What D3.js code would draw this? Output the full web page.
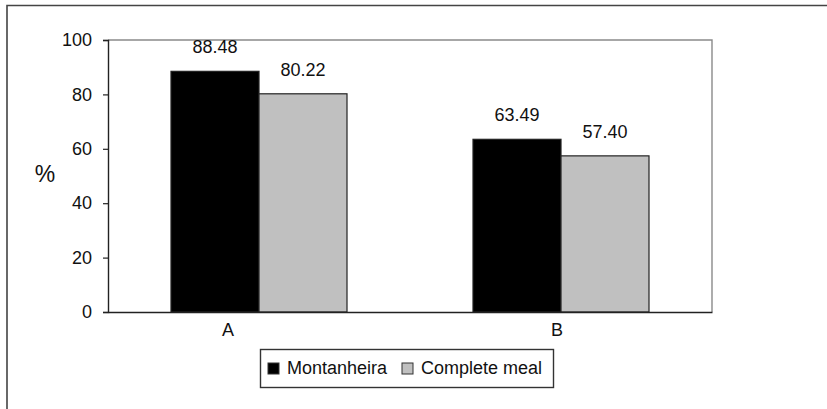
<!DOCTYPE html>
<html>
<head>
<meta charset="utf-8">
<script src="https://cdn.jsdelivr.net/npm/d3@7"></script>
<style>
  html, body { margin: 0; padding: 0; background: #fff; }
  svg { display: block; font-family: "Liberation Sans", Arial, sans-serif; }
</style>
</head>
<body>
<svg id="chart" width="827" height="409"></svg>
<script>
// Data
const categories = ["A", "B"];
const seriesNames = ["Montanheira", "Complete meal"];
const montanheira = [88.48, 63.49];
const completeMeal = [80.22, 57.40];
const yTicks = [0, 20, 40, 60, 80, 100];

const seriesValues = [montanheira, completeMeal];
const colors = ["#000000", "#c0c0c0"];

const svg = d3.select("#chart");
const W = 827, H = 409;
const plot = { left: 108, top: 40, right: 712, bottom: 312 };

// Outer frame (top and left edges)
svg.append("path")
  .attr("d", `M7,${H} L7,5.5 L${W},5.5`)
  .attr("fill", "none")
  .attr("stroke", "#444")
  .attr("stroke-width", 1.6);

const x = d3.scaleBand()
  .domain(categories)
  .range([plot.left, plot.right])
  .paddingInner(0)
  .paddingOuter(0);

const barW = 88;
const xInner = d3.scaleBand()
  .domain(seriesNames)
  .range([0, barW * 2]);

const y = d3.scaleLinear()
  .domain([0, 100])
  .range([plot.bottom, plot.top]);

// Plot area frame (top and right)
svg.append("path")
  .attr("d", `M${plot.left},${plot.top} L${plot.right},${plot.top} L${plot.right},${plot.bottom}`)
  .attr("fill", "none")
  .attr("stroke", "#8a8a8a")
  .attr("stroke-width", 1.4);

// Bars
const groups = svg.append("g").selectAll("g")
  .data(categories)
  .join("g")
  .attr("transform", d => `translate(${x(d) + x.bandwidth() / 2 - barW},0)`);

seriesNames.forEach((name, si) => {
  groups.append("rect")
    .attr("x", xInner(name))
    .attr("y", (d, i) => y(seriesValues[si][i]))
    .attr("width", xInner.bandwidth())
    .attr("height", (d, i) => y(0) - y(seriesValues[si][i]))
    .attr("fill", colors[si])
    .attr("stroke", "#222")
    .attr("stroke-width", 1.2);

  groups.append("text")
    .attr("x", xInner(name) + xInner.bandwidth() / 2)
    .attr("y", (d, i) => y(seriesValues[si][i]) - 18)
    .attr("text-anchor", "middle")
    .attr("font-size", 18)
    .attr("fill", "#111")
    .text((d, i) => seriesValues[si][i].toFixed(2));
});

// Y axis
const yAxis = d3.axisLeft(y)
  .tickValues(yTicks)
  .tickSize(5)
  .tickPadding(11)
  .tickFormat(d3.format("d"));

const gy = svg.append("g")
  .attr("transform", `translate(${plot.left},0)`)
  .call(yAxis);
gy.select(".domain").attr("stroke", "#222").attr("stroke-width", 1.4);
gy.selectAll(".tick line").attr("stroke", "#222").attr("stroke-width", 1.2);
gy.selectAll(".tick text")
  .attr("font-size", 18)
  .attr("fill", "#111")
  .attr("font-family", "Liberation Sans, Arial, sans-serif");

// X axis
const labelShift = { A: -31, B: -4 };
const xAxis = d3.axisBottom(x).tickSize(0).tickPadding(11);
const gx = svg.append("g")
  .attr("transform", `translate(0,${plot.bottom})`)
  .call(xAxis);
gx.select(".domain").attr("stroke", "#222").attr("stroke-width", 1.4);
gx.selectAll(".tick text")
  .attr("font-size", 18)
  .attr("fill", "#111")
  .attr("font-family", "Liberation Sans, Arial, sans-serif")
  .attr("dx", d => labelShift[d] || 0);

// Y axis title
svg.append("text")
  .attr("x", 45)
  .attr("y", 182)
  .attr("text-anchor", "middle")
  .attr("font-size", 23)
  .attr("fill", "#111")
  .text("%");

// Legend
const legend = svg.append("g");
legend.append("rect")
  .attr("x", 260.5).attr("y", 349.5)
  .attr("width", 293).attr("height", 38)
  .attr("fill", "#fff")
  .attr("stroke", "#333")
  .attr("stroke-width", 1.4);

const legendItems = [
  { name: seriesNames[0], color: colors[0], sx: 268, tx: 287 },
  { name: seriesNames[1], color: colors[1], sx: 402, tx: 421 }
];
legendItems.forEach(it => {
  legend.append("rect")
    .attr("x", it.sx).attr("y", 363)
    .attr("width", 11).attr("height", 11)
    .attr("fill", it.color)
    .attr("stroke", "#333")
    .attr("stroke-width", 1);
  legend.append("text")
    .attr("x", it.tx).attr("y", 374)
    .attr("font-size", 18)
    .attr("fill", "#111")
    .text(it.name);
});
</script>
</body>
</html>
